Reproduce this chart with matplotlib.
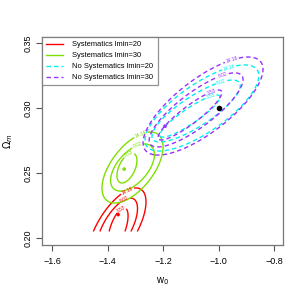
import numpy as np
import matplotlib
matplotlib.use("Agg")
import matplotlib.pyplot as plt

plt.rcParams['font.family'] = ['Liberation Sans', 'DejaVu Sans']

# Delta chi2 levels of the confidence contours
levels = [3.53, 8.02, 14.16]

# contour ellipses per data set, one entry per level (inner, middle, outer):
# centre w0, centre Om, half extent in w0, half extent in Om, correlation
red_cx = [-1.362, -1.366, -1.366]
red_cy = [0.2077, 0.2077, 0.2077]
red_ax = [0.036, 0.074, 0.1045]
red_ay = [0.0154, 0.0230, 0.0308]
red_rho = [0.6, 0.65, 0.65]

green_cx = [-1.33, -1.31, -1.31]
green_cy = [0.2538, 0.2542, 0.2542]
green_ax = [0.036, 0.079, 0.110]
green_ay = [0.0115, 0.0181, 0.0273]
green_rho = [0.5, 0.55, 0.58]

cyan_cx = [-1.103, -1.081, -1.060]
cyan_cy = [0.2938, 0.2977, 0.3000]
cyan_ax = [0.108, 0.159, 0.205]
cyan_ay = [0.0162, 0.0238, 0.0331]
cyan_rho = [0.9, 0.82, 0.75]

purple_cx = [-1.103, -1.081, -1.056]
purple_cy = [0.2946, 0.2985, 0.3015]
purple_ax = [0.115, 0.169, 0.216]
purple_ay = [0.0192, 0.0285, 0.0377]
purple_rho = [0.9, 0.82, 0.75]

# best fit points
best_w = [-1.362, -1.340, -1.193]
best_om = [0.218, 0.253, 0.286]
best_col = ['red', '#7FE000', '#9A30FF']
fid_w, fid_om = -1.0, 0.30

names = ['Systematics lmin=20', 'Systematics lmin=30',
         'No Systematics lmin=20', 'No Systematics lmin=30']
colors = ['#FF0000', '#7FE000', '#00F0F0', '#9A30FF']
dashed = [False, False, True, True]
om_floor = [0.205, 0.195, 0.195, 0.195]

sets = [(red_cx, red_cy, red_ax, red_ay, red_rho),
        (green_cx, green_cy, green_ax, green_ay, green_rho),
        (cyan_cx, cyan_cy, cyan_ax, cyan_ay, cyan_rho),
        (purple_cx, purple_cy, purple_ax, purple_ay, purple_rho)]

fig = plt.figure(figsize=(2.99, 2.87), dpi=100)
ax = fig.add_axes([42 / 299, 42 / 287, 241 / 299, 208 / 287])

w = np.linspace(-1.64, -0.76, 500)
for (cx, cy, hx, hy, rr), col, dsh, fl in zip(sets, colors, dashed, om_floor):
    om = np.linspace(fl, 0.356, 500)
    W, OM = np.meshgrid(w, om)
    ls = (0, (3.2, 2.2)) if dsh else 'solid'
    for k, lev in enumerate(levels):
        u = (W - cx[k]) / hx[k]
        v = (OM - cy[k]) / hy[k]
        q = (u * u - 2 * rr[k] * u * v + v * v) / (1 - rr[k] ** 2)
        cs = ax.contour(W, OM, q * lev, levels=[lev], colors=[col],
                        linewidths=1.0, linestyles=[ls])
        phi = np.arccos(rr[k])
        t = phi + 0.35
        pos = (cx[k] + hx[k] * np.cos(t), cy[k] + hy[k] * np.cos(t - phi))
        ax.clabel(cs, fmt={lev: '%.2f' % lev}, fontsize=3.5, inline=True,
                  inline_spacing=1, manual=[pos])

ax.scatter(best_w, best_om, s=7, c=best_col, zorder=5, linewidths=0)
ax.scatter([fid_w], [fid_om], s=16, c='black', zorder=6, linewidths=0)

ax.set_xlim(-1.636, -0.768)
ax.set_ylim(0.1946, 0.3546)
ax.set_xticks([-1.6, -1.4, -1.2, -1.0, -0.8])
ax.set_xticklabels(['\u22121.6', '\u22121.4', '\u22121.2', '\u22121.0', '\u22120.8'])
ax.set_yticks([0.20, 0.25, 0.30, 0.35])
ax.set_yticklabels(['0.20', '0.25', '0.30', '0.35'], rotation=90, va='center')
ax.tick_params(direction='out', length=4, width=0.8, labelsize=6.5,
               color='#555555')
ax.tick_params(axis='x', pad=5)
ax.tick_params(axis='y', pad=3)
for s in ax.spines.values():
    s.set_color('#777777')
    s.set_linewidth(0.9)
ax.set_xlabel('w$_0$', fontsize=7, labelpad=6)
ax.set_ylabel('$\\Omega_m$', fontsize=7, labelpad=6)

handles = [plt.Line2D([], [], color=c, lw=1.0,
                      ls=(0, (3.2, 2.2)) if d else 'solid')
           for c, d in zip(colors, dashed)]
leg = ax.legend(handles, names, loc='upper left', fontsize=5.4,
                frameon=True, fancybox=False, borderaxespad=0,
                handlelength=2.2, handletextpad=1.3, labelspacing=0.5,
                borderpad=0.55)
leg.get_frame().set_edgecolor('#777777')
leg.get_frame().set_linewidth(0.9)

fig.savefig('out.png', dpi=100)
